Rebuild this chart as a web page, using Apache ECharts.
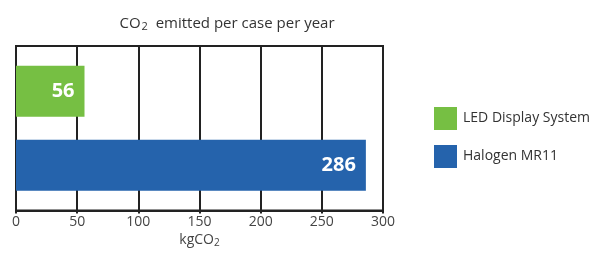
<!DOCTYPE html>
<html>
	<head>
		<meta charset="UTF-8">
		<title>CO2 emitted per case per year</title>
		<script type="text/javascript" src="https://cdn.jsdelivr.net/npm/echarts@6/dist/echarts.min.js"></script>
	</head>

	<script>
		var categories = ["case"];
		var seriesNames = ["LED Display System", "Halogen MR11"];
		var ledValues = [56];
		var halogenValues = [286];
		var xTicks = [0, 50, 100, 150, 200, 250, 300];

		window.onload = function () {
			var chart = echarts.init(document.getElementById("main"));
			var font = "'Open Sans', sans-serif";

			var barLabel = {
				show: true,
				position: "insideRight",
				distance: 10,
				color: "#fff",
				fontSize: 20,
				fontWeight: "bold",
				fontFamily: font
			};

			var option = {
				animation: false,
				title: {
					text: "{a|CO}{s|2}{a|  emitted per case per year}",
					left: 222,
					textAlign: "center",
					top: 10,
					textStyle: {
						fontWeight: "normal",
						rich: {
							a: {fontSize: 15, color: "#333", fontFamily: font, fontWeight: "normal"},
							s: {fontSize: 11, color: "#333", fontFamily: font, fontWeight: "normal", verticalAlign: "bottom", padding: [6, 0, 0, 1]}
						}
					}
				},
				legend: {
					orient: "vertical",
					left: 429,
					top: 102,
					itemWidth: 23,
					itemHeight: 23,
					itemGap: 15,
					icon: "rect",
					textStyle: {fontSize: 14, color: "#333", fontFamily: font, padding: [0, 0, 0, 1]},
					data: seriesNames
				},
				grid: {
					left: 16,
					right: 222,
					top: 46,
					bottom: 39,
					show: true,
					borderColor: "#222",
					borderWidth: 2,
					containLabel: false
				},
				xAxis: {
					type: "value",
					min: xTicks[0],
					max: xTicks[xTicks.length - 1],
					interval: 50,
					name: "{a|kgCO}{s|2}",
					nameLocation: "middle",
					nameGap: 22,
					nameTextStyle: {
						rich: {
							a: {fontSize: 14, color: "#444", fontFamily: font},
							s: {fontSize: 10, color: "#444", fontFamily: font, verticalAlign: "bottom", padding: [5, 0, 0, 0]}
						}
					},
					axisLine: {show: true, lineStyle: {color: "#222", width: 2}},
					axisTick: {show: true, length: 3, lineStyle: {color: "#222", width: 2}},
					axisLabel: {fontSize: 14, color: "#444", fontFamily: font, margin: 4},
					splitLine: {show: true, lineStyle: {color: "#222", width: 2}}
				},
				yAxis: {
					type: "category",
					data: categories,
					inverse: true,
					axisLine: {show: false},
					axisTick: {show: false},
					axisLabel: {show: false}
				},
				series: [
					{
						name: seriesNames[0],
						type: "bar",
						data: ledValues,
						barWidth: 51,
						barGap: "45%",
						itemStyle: {color: "#76BF43"},
						label: barLabel
					},
					{
						name: seriesNames[1],
						type: "bar",
						data: halogenValues,
						barWidth: 51,
						barGap: "45%",
						itemStyle: {color: "#2563AC"},
						label: barLabel
					}
				]
			};

			chart.setOption(option);
		};
	</script>

	<body style="margin: 0; background: #fff;">
		<div id="main" style="width: 605px; height: 253px;"></div>
	</body>
</html>
